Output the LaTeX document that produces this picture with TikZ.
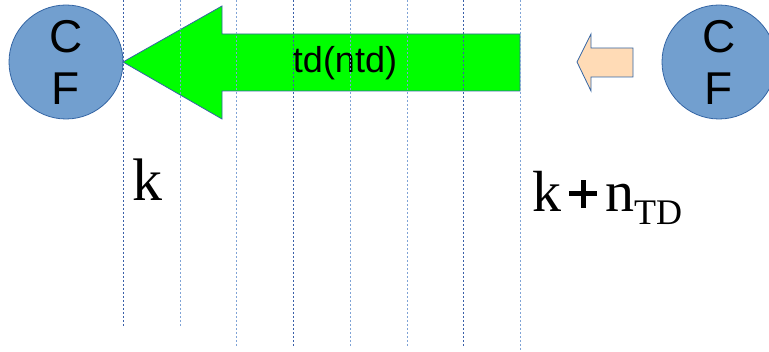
\documentclass[tikz,border=0pt]{standalone}
\usepackage{fontspec}
\setmainfont{Liberation Serif}
\newfontfamily\sansf{Liberation Sans}
\definecolor{cfill}{HTML}{729FCF}
\definecolor{cedge}{HTML}{3465A4}
\definecolor{agreen}{HTML}{00FF00}
\definecolor{apeach}{HTML}{FFDBB6}
\definecolor{ldark}{HTML}{3A5FA8}
\definecolor{llight}{HTML}{7FA3D6}
\begin{document}
\begin{tikzpicture}[x=1pt,y=-1pt,
  cfnode/.style={circle,draw=cedge,fill=cfill,line width=0.8pt,minimum size=114pt,inner sep=0pt,
    align=center,font=\sansf\fontsize{46}{52}\selectfont},
  arrowshape/.style={draw=cedge,line width=0.8pt,line join=miter},
  gridline/.style={line width=1pt,dash pattern=on 2.5pt off 1.5pt},
  bigtext/.style={inner sep=0pt,anchor=base west}]
\useasboundingbox (0,0) rectangle (769,352);
\clip (0,0) rectangle (769,352);
% circles
\node[cfnode] (cfl) at (66,62) {C\\F};
\node[cfnode] (cfr) at (719,62) {C\\F};
% green arrow
\draw[arrowshape,fill=agreen] (123,62) -- (222,6) -- (222,34) -- (520,34) -- (520,91) -- (222,91) -- (222,119) -- cycle;
\node[font=\sansf\fontsize{36}{36}\selectfont,inner sep=0pt] (td) at (345,63) {td(ntd)};
% peach arrow
\draw[arrowshape,fill=apeach] (577,62) -- (591,34) -- (591,48) -- (633,48) -- (633,77) -- (591,77) -- (591,91) -- cycle;
% grid lines
\draw[gridline,ldark] (123,0) -- (123,328);
\draw[gridline,llight] (180,0) -- (180,328);
\draw[gridline,llight] (236,0) -- (236,347);
\draw[gridline,ldark] (293,0) -- (293,347);
\draw[gridline,llight] (350,0) -- (350,347);
\draw[gridline,llight] (407,0) -- (407,347);
\draw[gridline,ldark] (463,0) -- (463,347);
\draw[gridline,llight] (520,0) -- (520,352);
% labels
\node[bigtext,font=\fontsize{60}{60}\selectfont] (k) at (132,201) {k};
\node[bigtext,font=\fontsize{58}{58}\selectfont] (kn) at (532,212) {k\hspace{8pt}\rlap{\rule[15.5pt]{28pt}{5pt}}\hspace{11.5pt}\rule[4pt]{5pt}{28pt}\hspace{11.5pt}\hspace{8pt}n\raisebox{-13pt}{\fontsize{36}{36}\selectfont TD}};
\end{tikzpicture}
\end{document}
